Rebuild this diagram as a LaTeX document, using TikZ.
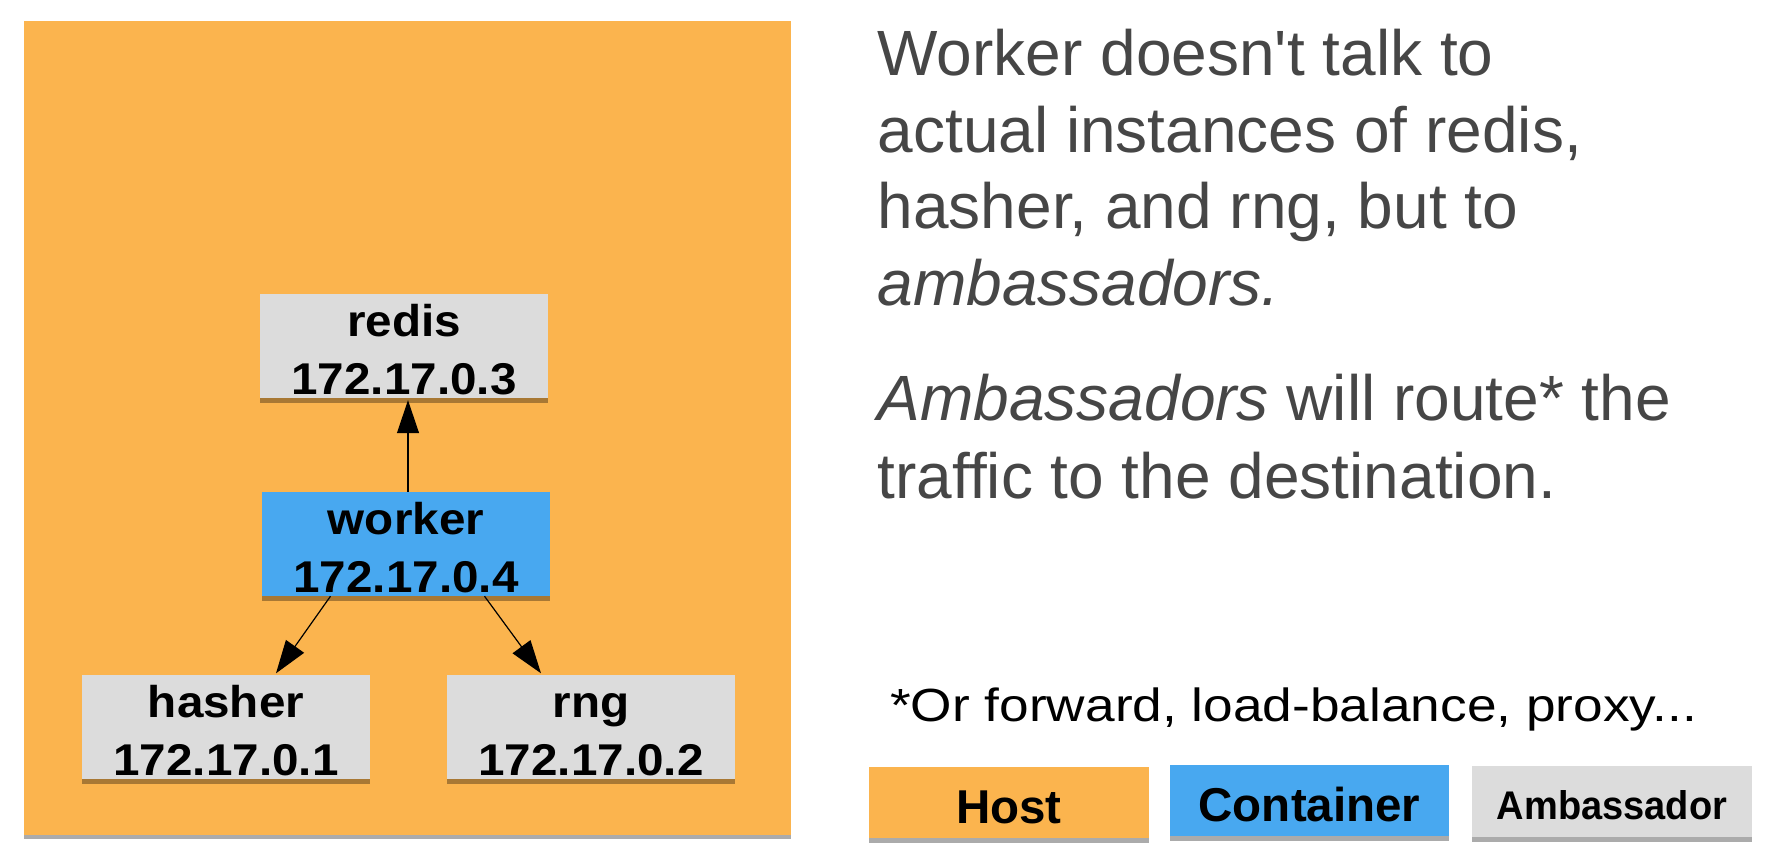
\documentclass[tikz,border=0pt]{standalone}
\usepackage{fontspec}
\setmainfont{Liberation Sans}[Ligatures=TeXOff]
\usepackage{graphicx}
\usetikzlibrary{arrows.meta,shadows}
\definecolor{hostc}{HTML}{FBB44E}
\definecolor{contc}{HTML}{48A8F0}
\definecolor{ambc}{HTML}{DCDCDC}
\definecolor{txtc}{HTML}{464646}
\newcommand{\hsc}[2]{\scalebox{#1}[1]{#2}}
\newcommand{\bxl}[1]{\raisebox{0pt}[38pt][0pt]{\hsc{1.07}{#1}}}
\tikzset{
  shad/.style={drop shadow={shadow xshift=0pt,shadow yshift=-#1,opacity=0.33,fill=black}},
  svcbox/.style={rectangle, inner sep=0pt, minimum width=288pt, minimum height=104pt,
    align=center, font=\fontsize{44.5pt}{58pt}\selectfont\bfseries, shad=5pt},
  ambbox/.style={svcbox, fill=ambc},
  ctrbox/.style={svcbox, fill=contc},
  link/.style={draw=black, line width=1.2pt, -{Triangle[length=33pt,width=22pt]}},
  bodytxt/.style={anchor=base west, inner sep=0pt, text=txtc, font=\fontsize{64pt}{76pt}\selectfont},
  foottxt/.style={anchor=base west, inner sep=0pt, text=black, font=\fontsize{46.5pt}{56pt}\selectfont},
  legbox/.style={rectangle, inner sep=0pt, minimum height=71pt, minimum width=280pt,
    text depth=0pt, font=\fontsize{47.5pt}{57pt}\selectfont\bfseries, shad=5pt},
}
\begin{document}
\begin{tikzpicture}[x=1pt,y=-1pt]
\useasboundingbox (0,0) rectangle (1775,865);
% host background
\node[rectangle, fill=hostc, inner sep=0pt, minimum width=767pt, minimum height=814pt, shad=4pt] (host) at (407.5,428) {};
% boxes
\node[ambbox] (redis) at (404,346) {\bxl{redis}\\\bxl{172.17.0.3}};
\node[ctrbox] (worker) at (406,544) {\bxl{worker}\\\bxl{172.17.0.4}};
\node[ambbox] (hasher) at (226,727) {\bxl{hasher}\\\bxl{172.17.0.1}};
\node[ambbox] (rng) at (591,727) {\bxl{rng}\\\bxl{172.17.0.2}};
% connectors
\draw[link] ([xshift=2pt]worker.north) -- ([xshift=4pt,yshift=-2pt]redis.south);
\draw[link] ([xshift=-75.5pt]worker.south) -- ([xshift=50pt,yshift=1.5pt]hasher.north);
\draw[link] ([xshift=78.5pt]worker.south) -- ([xshift=-50pt,yshift=1.5pt]rng.north);
% right text
\node[bodytxt] (l1) at (877.5,75) {Worker doesn't talk to};
\node[bodytxt] (l2) at (877.5,152) {actual instances of redis,};
\node[bodytxt] (l3) at (877.5,228) {hasher, and rng, but to};
\node[bodytxt] (l4) at (877.5,305) {\itshape ambassadors.};
\node[bodytxt] (l5) at (877.5,420) {{\itshape Ambassadors} will route* the};
\node[bodytxt] (l6) at (877.5,498) {traffic to the destination.};
\node[foottxt] (fn) at (890,721) {\hsc{1.145}{*Or forward, load-balance, proxy...}};
% legend
\node[legbox, fill=hostc, text height=41pt] (lhost) at (1009,802.5) {Host};
\node[legbox, fill=contc, text height=41pt, minimum width=279pt] (lcont) at (1309.5,800.5) {Container};
\node[legbox, fill=ambc, text height=35pt, font=\fontsize{40pt}{48pt}\selectfont\bfseries] (lamb) at (1612,801.5) {\hsc{0.95}{Ambassador}};
\end{tikzpicture}
\end{document}
